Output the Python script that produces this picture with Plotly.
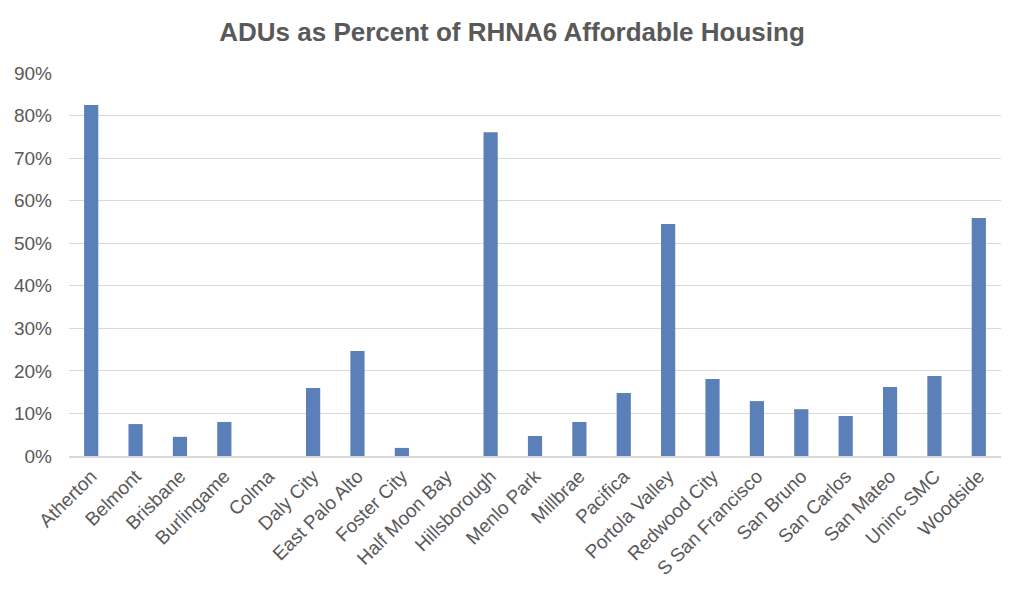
import plotly.graph_objects as go

cities = ["Atherton", "Belmont", "Brisbane", "Burlingame", "Colma", "Daly City",
          "East Palo Alto", "Foster City", "Half Moon Bay", "Hillsborough", "Menlo Park",
          "Millbrae", "Pacifica", "Portola Valley", "Redwood City", "S San Francisco",
          "San Bruno", "San Carlos", "San Mateo", "Uninc SMC", "Woodside"]
pct = [0.825, 0.075, 0.045, 0.080, 0.0, 0.160,
       0.247, 0.019, 0.0, 0.761, 0.047,
       0.080, 0.148, 0.545, 0.181, 0.129,
       0.110, 0.094, 0.162, 0.188, 0.559]
yticks = [0, 0.1, 0.2, 0.3, 0.4, 0.5, 0.6, 0.7, 0.8, 0.9]

fig = go.Figure(go.Bar(x=cities, y=pct, marker=dict(color="#5b7fb9", line=dict(width=0)),
                       width=0.32))
fig.update_layout(
    width=1024, height=599,
    paper_bgcolor="white", plot_bgcolor="white",
    margin=dict(l=69, r=23, t=73, b=143),
    title=dict(text="<b>ADUs as Percent of RHNA6 Affordable Housing</b>",
               x=0.5, xanchor="center", y=0.947, yanchor="middle",
               font=dict(family="Liberation Sans, Arial", size=26, color="#595959")),
    font=dict(family="Liberation Sans, Arial", size=19, color="#595959"),
    showlegend=False,
)
fig.update_yaxes(range=[0, 0.9], tickvals=yticks, tickformat=".0%", automargin=False,
                 showgrid=True, gridcolor="#d9d9d9", gridwidth=1.3, zeroline=False,
                 ticks="", ticklen=0, showline=False, ticklabelstandoff=16,
                 tickfont=dict(size=19, color="#595959"))
fig.update_xaxes(tickangle=-45, showline=True, linecolor="#d9d9d9", linewidth=1.5,
                 automargin=False, ticks="", showgrid=False,
                 tickfont=dict(size=19, color="#595959"))
fig.write_html("out.html", config={"displayModeBar": False},
               post_script="document.body.style.margin='0';document.body.style.overflow='hidden';")
